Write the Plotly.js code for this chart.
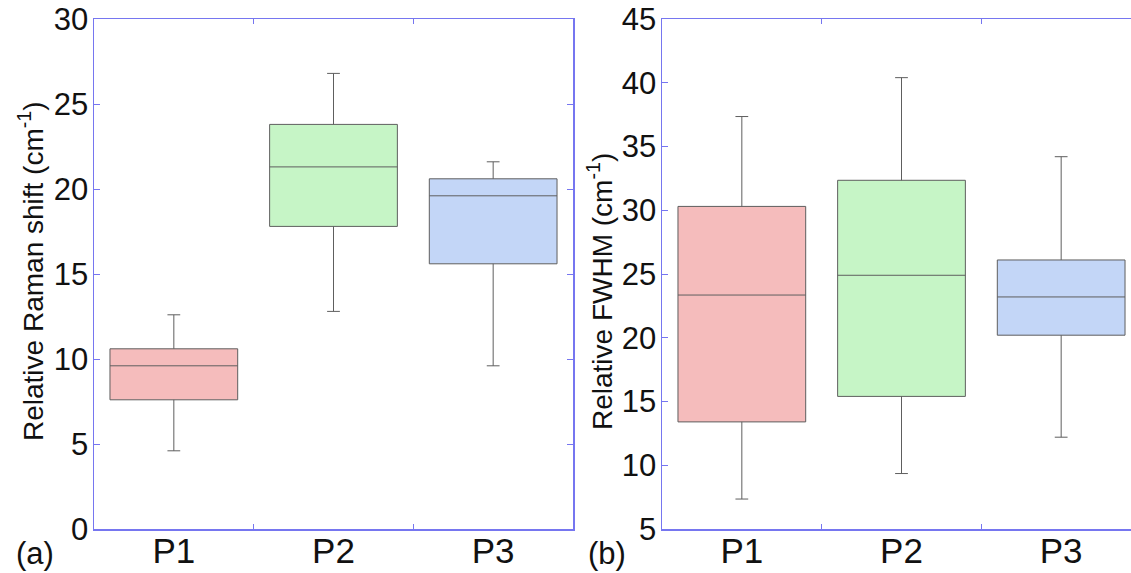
<!DOCTYPE html>
<html>
<head>
<meta charset="utf-8">
<script src="https://cdn.plot.ly/plotly-3.0.1.min.js"></script>
<style>
  html, body { margin: 0; padding: 0; overflow: hidden; background: #fff; }
  #chart { width: 1145px; height: 573px; }
</style>
</head>
<body>
<div id="chart"></div>
<script>
// ---- data ----
const categories = ['P1', 'P2', 'P3'];
const boxColors = ['#f5bcbc', '#c6f5c6', '#c3d6f7'];

const ramanLower  = [4.6, 12.8, 9.6];
const ramanQ1     = [7.6, 17.8, 15.6];
const ramanMedian = [9.6, 21.3, 19.6];
const ramanQ3     = [10.6, 23.8, 20.6];
const ramanUpper  = [12.6, 26.8, 21.6];

const fwhmLower  = [7.35, 9.35, 12.2];
const fwhmQ1     = [13.4, 15.4, 20.2];
const fwhmMedian = [23.35, 24.9, 23.2];
const fwhmQ3     = [30.3, 32.35, 26.1];
const fwhmUpper  = [37.35, 40.4, 34.2];

const ramanTitle = 'Relative Raman shift (cm<sup>-1</sup>)';
const fwhmTitle = 'Relative FWHM (cm<sup>-1</sup>)';

// ---- geometry ----
const W = 1145, H = 573;
const px = v => v / W;
const py = v => (H - v) / H;

const FONT = 'Liberation Sans, Arial, sans-serif';
const AXIS_BLUE = 'rgb(118,118,240)';

const traces = [];
function addBoxes(lower, q1, med, q3, upper, xa, ya) {
  categories.forEach((c, i) => {
    traces.push({
      type: 'box',
      x: [c],
      lowerfence: [lower[i]],
      q1: [q1[i]],
      median: [med[i]],
      q3: [q3[i]],
      upperfence: [upper[i]],
      width: 0.8,
      whiskerwidth: 0.1,
      fillcolor: boxColors[i],
      line: { color: '#5e5e5e', width: 1 },
      xaxis: xa,
      yaxis: ya,
      showlegend: false,
      hoverinfo: 'skip'
    });
  });
}
addBoxes(ramanLower, ramanQ1, ramanMedian, ramanQ3, ramanUpper, 'x', 'y');
addBoxes(fwhmLower, fwhmQ1, fwhmMedian, fwhmQ3, fwhmUpper, 'x2', 'y2');

function xAxis(domain, anchor) {
  return {
    domain: domain,
    anchor: anchor,
    type: 'category',
    categoryorder: 'array',
    categoryarray: categories,
    range: [-0.5, 2.5],
    showline: true, linecolor: AXIS_BLUE, linewidth: 1.5,
    mirror: 'ticks',
    ticks: 'inside', ticklen: 5, tickcolor: AXIS_BLUE, tickwidth: 1,
    tickson: 'boundaries',
    showgrid: false, zeroline: false,
    tickfont: { family: FONT, size: 35, color: '#111' },
    ticklabelstandoff: -10,
    fixedrange: true
  };
}
function yAxis(range, anchor) {
  return {
    domain: [py(529), py(19)],
    anchor: anchor,
    range: range,
    dtick: 5,
    tick0: 0,
    showline: true, linecolor: AXIS_BLUE, linewidth: 1.5,
    mirror: 'ticks',
    ticks: 'inside', ticklen: 6, tickcolor: AXIS_BLUE, tickwidth: 1,
    showgrid: false, zeroline: false,
    tickfont: { family: FONT, size: 31, color: '#111' },
    ticklabelstandoff: -2,
    fixedrange: true
  };
}

const layout = {
  width: W, height: H,
  margin: { l: 0, r: 0, t: 0, b: 0 },
  paper_bgcolor: '#fff',
  plot_bgcolor: '#fff',
  showlegend: false,
  boxmode: 'overlay',
  xaxis: xAxis([px(94), px(573)], 'y'),
  yaxis: yAxis([0, 30], 'x'),
  xaxis2: xAxis([px(662), px(1141)], 'y2'),
  yaxis2: yAxis([5, 45], 'x2'),
  annotations: [
    { text: ramanTitle, textangle: -90, x: px(31), y: py(271), xref: 'paper', yref: 'paper',
      showarrow: false, xanchor: 'center', yanchor: 'middle',
      font: { family: FONT, size: 28, color: '#111' } },
    { text: fwhmTitle, textangle: -90, x: px(600), y: py(292), xref: 'paper', yref: 'paper',
      showarrow: false, xanchor: 'center', yanchor: 'middle',
      font: { family: FONT, size: 28, color: '#111' } },
    { text: '(a)', x: px(35), y: py(553), xref: 'paper', yref: 'paper',
      showarrow: false, xanchor: 'center', yanchor: 'middle',
      font: { family: FONT, size: 31, color: '#111' } },
    { text: '(b)', x: px(607), y: py(553), xref: 'paper', yref: 'paper',
      showarrow: false, xanchor: 'center', yanchor: 'middle',
      font: { family: FONT, size: 31, color: '#111' } }
  ]
};

Plotly.newPlot('chart', traces, layout, { displayModeBar: false, staticPlot: true });
</script>
</body>
</html>
